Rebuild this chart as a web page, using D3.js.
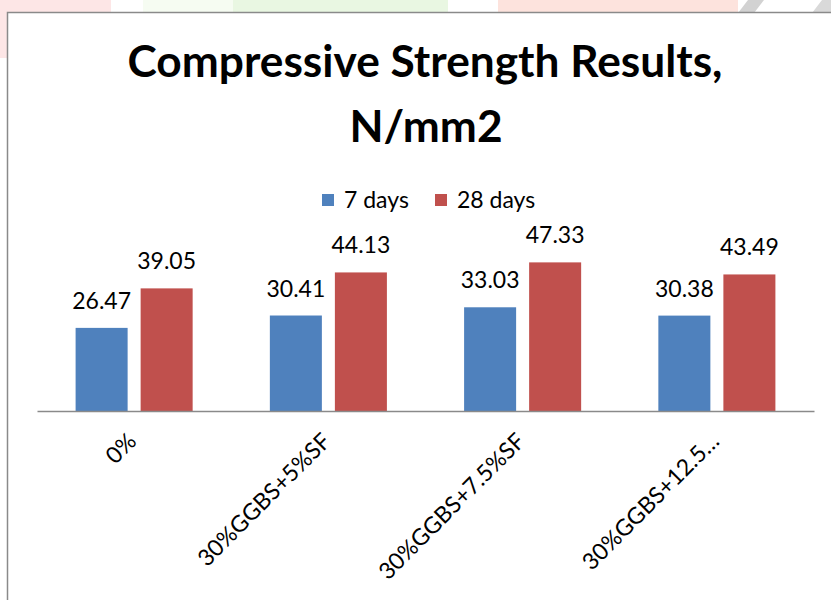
<!DOCTYPE html>
<html>
<head>
<meta charset="utf-8">
<script src="https://cdn.jsdelivr.net/npm/d3@7"></script>
<style>
  html, body { margin: 0; padding: 0; background: #fff; }
  svg { display: block; font-family: Lato, "Open Sans", sans-serif; }
</style>
</head>
<body>
<svg id="chart"></svg>
<script>
// chart values
const categories = ["0%", "30%GGBS+5%SF", "30%GGBS+7.5%SF", "30%GGBS+12.5…"];
const seriesNames = ["7 days", "28 days"];
const days7 = [26.47, 30.41, 33.03, 30.38];
const days28 = [39.05, 44.13, 47.33, 43.49];
const seriesColors = ["#4F81BD", "#C0504D"];
const titleLines = ["Compressive Strength Results,", "N/mm2"];

const width = 831, height = 600;
const svg = d3.select("#chart").attr("width", width).attr("height", height);

// faint page background bits above the chart frame
const deco = svg.append("g");
deco.append("rect").attr("x", 0).attr("y", 0).attr("width", 111).attr("height", 13).attr("fill", "#fde6e6");
deco.append("rect").attr("x", 0).attr("y", 0).attr("width", 7).attr("height", 58).attr("fill", "#fde6e6");
deco.append("rect").attr("x", 143).attr("y", 0).attr("width", 90).attr("height", 13).attr("fill", "#f6fcf2");
deco.append("rect").attr("x", 233).attr("y", 0).attr("width", 215).attr("height", 13).attr("fill", "#e9f7e2");
deco.append("rect").attr("x", 498).attr("y", 0).attr("width", 240).attr("height", 13).attr("fill", "#fde3dd");
deco.append("path").attr("d", "M738,13 L748,0 L764,0 L754,13 Z").attr("fill", "#d2d2d2");
deco.append("path").attr("d", "M812,13 L822,0 L831,0 L831,13 Z").attr("fill", "#d9d9d9");

// chart frame (continues past the right edge)
svg.append("path")
  .attr("d", "M7.5,600 L7.5,12.5 L831,12.5")
  .attr("fill", "none")
  .attr("stroke", "#8a8a8a")
  .attr("stroke-width", 1.5);

// title
const title = svg.append("g").attr("font-weight", "bold").attr("fill", "#000");
const t1 = title.append("text").attr("x", 425).attr("y", 77).attr("text-anchor", "middle")
  .attr("font-size", 40).text(titleLines[0]);
const fit = 595 / t1.node().getComputedTextLength();
const titleSize = 40 * fit;
t1.attr("font-size", titleSize);
title.append("text").attr("x", 426).attr("y", 142).attr("text-anchor", "middle")
  .attr("font-size", titleSize).text(titleLines[1]);

// scales
const margin = { left: 37, right: 17, baseline: 411 };
const x0 = d3.scaleBand()
  .domain(categories)
  .range([margin.left, width - margin.right])
  .paddingInner(0)
  .paddingOuter(0);

const groupPad = 38.6;
const x1 = d3.scaleBand()
  .domain(seriesNames)
  .range([groupPad, x0.bandwidth() - groupPad])
  .paddingInner(0.2)
  .paddingOuter(0);

const y = d3.scaleLinear()
  .domain([0, 50])
  .range([margin.baseline, 254]);

const rows = categories.map((c, i) => ({
  category: c,
  values: [
    { series: seriesNames[0], value: days7[i], color: seriesColors[0] },
    { series: seriesNames[1], value: days28[i], color: seriesColors[1] },
  ],
}));

const groups = svg.append("g").selectAll("g.group")
  .data(rows)
  .join("g")
  .attr("class", "group")
  .attr("transform", d => `translate(${x0(d.category)},0)`);

groups.selectAll("rect")
  .data(d => d.values)
  .join("rect")
  .attr("x", d => x1(d.series))
  .attr("y", d => y(d.value))
  .attr("width", x1.bandwidth())
  .attr("height", d => y(0) - y(d.value))
  .attr("fill", d => d.color);

// data labels
groups.selectAll("text.value")
  .data(d => d.values)
  .join("text")
  .attr("class", "value")
  .attr("x", d => x1(d.series) + x1.bandwidth() / 2)
  .attr("y", d => y(d.value) - 19)
  .attr("text-anchor", "middle")
  .attr("font-size", 23)
  .attr("fill", "#000")
  .text(d => d.value.toFixed(2));

// category axis
const xAxis = svg.append("g")
  .attr("transform", `translate(0,${margin.baseline})`)
  .call(d3.axisBottom(x0).tickSize(0).tickPadding(0));
xAxis.select(".domain").attr("stroke", "#8a8a8a").attr("stroke-width", 1.6);
xAxis.selectAll(".tick text")
  .attr("font-family", "Lato, sans-serif")
  .attr("font-size", 23)
  .attr("fill", "#000")
  .attr("text-anchor", "end")
  .attr("dy", "0.72em")
  .attr("transform", "translate(-8,20) rotate(-45)");

// legend
const legend = svg.append("g").attr("font-size", 23);
const legendX = [322, 435];
seriesNames.forEach((name, i) => {
  legend.append("rect")
    .attr("x", legendX[i]).attr("y", 194)
    .attr("width", 12).attr("height", 12)
    .attr("fill", seriesColors[i]);
  legend.append("text")
    .attr("x", legendX[i] + 22).attr("y", 208)
    .attr("fill", "#000")
    .text(name);
});
</script>
</body>
</html>
